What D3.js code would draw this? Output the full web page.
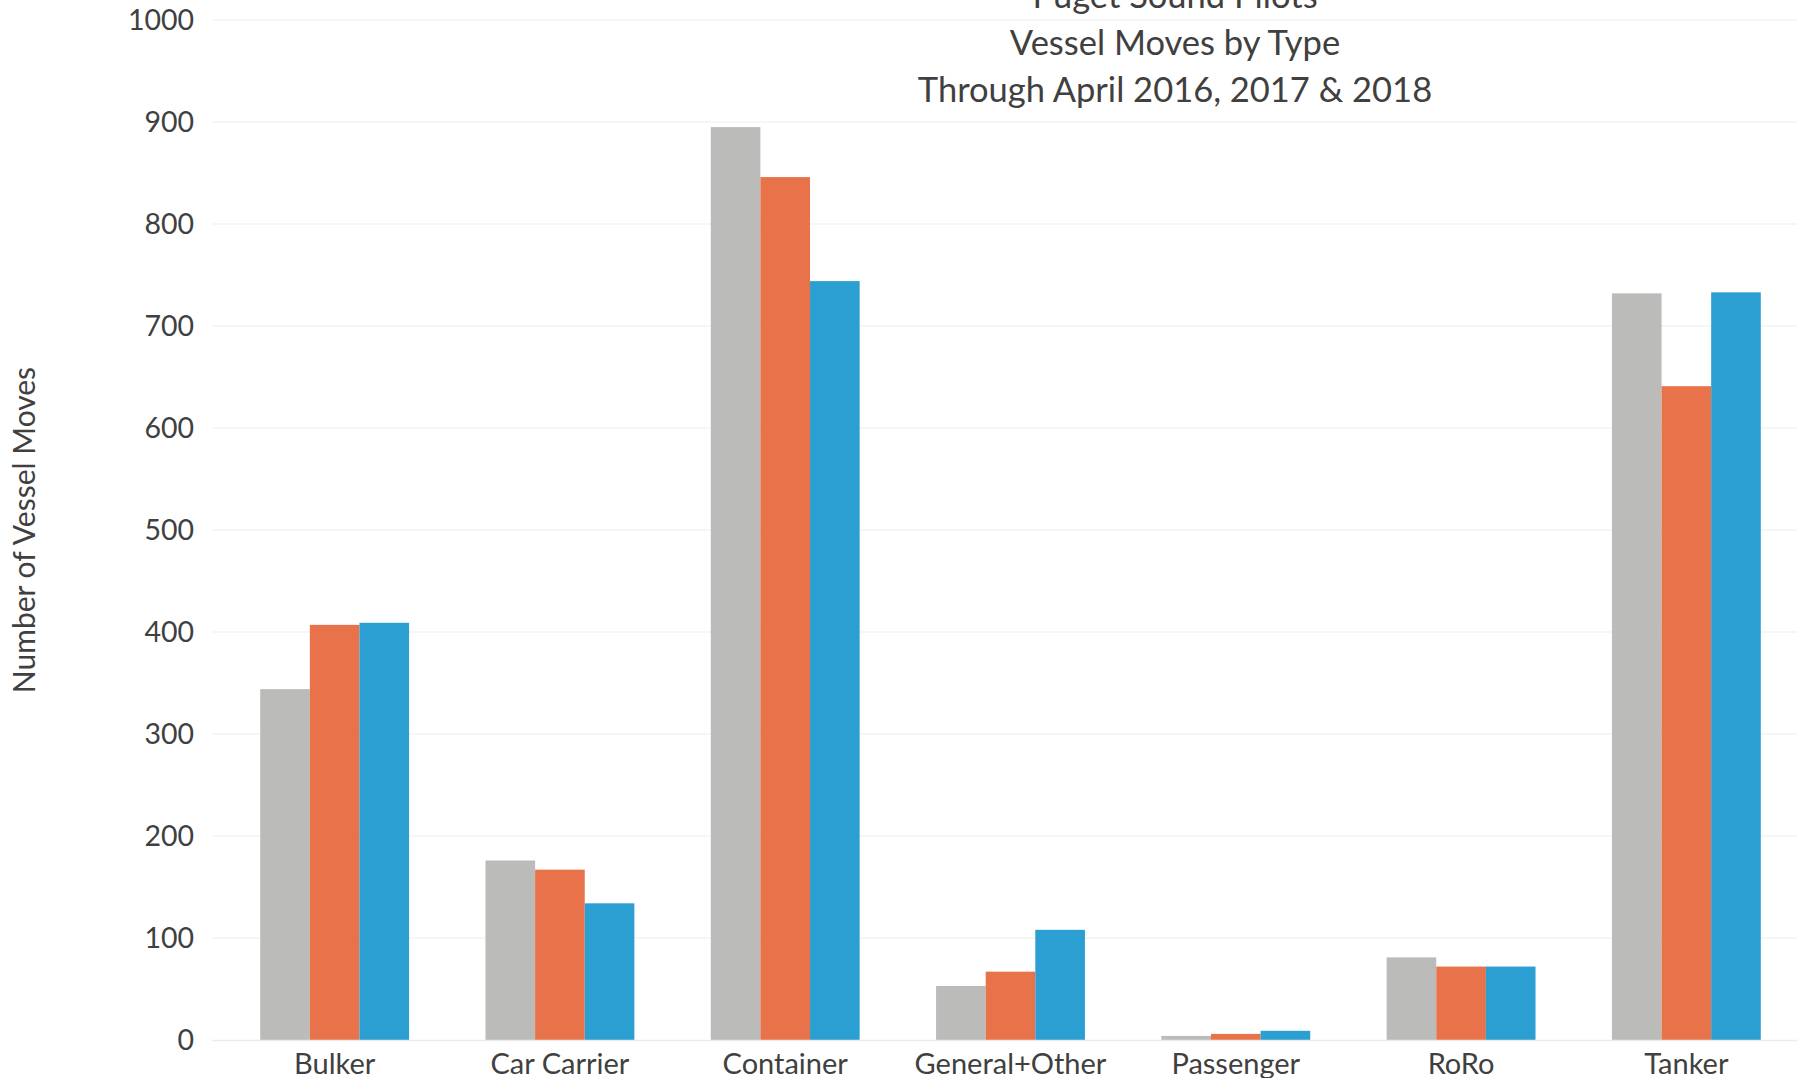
<!DOCTYPE html>
<html>
<head>
<meta charset="utf-8">
<script src="https://cdn.jsdelivr.net/npm/d3@7"></script>
<style>
    body { margin: 0; background: #ffffff; }
    text { font-family: Lato, "Open Sans", sans-serif; fill: #404040; }
</style>
</head>
<body>
<svg></svg>
<script>
let categories = ['Bulker', 'Car Carrier', 'Container', 'General+Other', 'Passenger', 'RoRo', 'Tanker'];
let years = ['2016', '2017', '2018'];
let moves2016 = [344, 176, 895, 53, 4, 81, 732];
let moves2017 = [407, 167, 846, 67, 6, 72, 641];
let moves2018 = [409, 134, 744, 108, 9, 72, 733];
let yTicks = [0, 100, 200, 300, 400, 500, 600, 700, 800, 900, 1000];
let titleLines = ['Puget Sound Pilots', 'Vessel Moves by Type', 'Through April 2016, 2017 & 2018'];
let colors = ['#bbbcb9', '#e8734a', '#2b9fd1'];

let series = [moves2016, moves2017, moves2018];
let data = categories.map((c, i) => ({
    name: c,
    values: years.map((y, j) => ({ year: y, value: series[j][i] }))
}));

let width = 1797;
let height = 1078;
let plotLeft = 222;
let plotRight = 1799;
let plotTop = 20;
let plotBottom = 1040;

let svg = d3.select('svg')
    .attr('width', width)
    .attr('height', height);

let yScale = d3.scaleLinear()
    .domain([0, 1000])
    .range([plotBottom, plotTop]);

let xScale = d3.scaleBand()
    .domain(categories)
    .range([plotLeft, plotRight])
    .paddingInner(0)
    .paddingOuter(0);

let inner = d3.scaleBand()
    .domain(years)
    .range([0, xScale.bandwidth()])
    .paddingInner(0)
    .paddingOuter(0.77);

// gridlines
svg.append('g')
    .selectAll('line')
    .data(yTicks.filter(t => t > 0))
    .enter()
    .append('line')
    .attr('x1', 212)
    .attr('x2', width)
    .attr('y1', d => yScale(d))
    .attr('y2', d => yScale(d))
    .attr('stroke', '#f3f3f3')
    .attr('stroke-width', 1.5);

// y axis labels
let yAxis = svg.append('g')
    .attr('transform', `translate(${194}, 0)`)
    .call(d3.axisLeft(yScale).tickValues(yTicks).tickFormat(d3.format('d')).tickSize(0).tickPadding(0));
yAxis.select('.domain').remove();
yAxis.selectAll('text')
    .style('font-size', '28.5px')
    .attr('fill', '#404040');

let groups = svg.selectAll('.group')
    .data(data)
    .enter()
    .append('g')
    .attr('class', 'group')
    .attr('transform', d => `translate(${xScale(d.name)}, 0)`);

groups.selectAll('rect')
    .data(d => d.values)
    .enter()
    .append('rect')
    .attr('x', d => inner(d.year))
    .attr('y', d => yScale(d.value))
    .attr('width', inner.bandwidth())
    .attr('height', d => plotBottom - yScale(d.value))
    .attr('fill', (d, i) => colors[i]);

// baseline
svg.append('line')
    .attr('x1', 212)
    .attr('x2', width)
    .attr('y1', plotBottom + 0.5)
    .attr('y2', plotBottom + 0.5)
    .attr('stroke', '#ececec')
    .attr('stroke-width', 1.5);

// category labels
let xAxis = svg.append('g')
    .attr('transform', `translate(0, ${plotBottom})`)
    .call(d3.axisBottom(xScale).tickSize(0).tickPadding(13));
xAxis.select('.domain').remove();
xAxis.selectAll('text')
    .style('font-size', '29px')
    .attr('fill', '#404040');

// title
svg.append('g')
    .selectAll('text')
    .data(titleLines)
    .enter()
    .append('text')
    .attr('x', 1175)
    .attr('y', (d, i) => 8 + i * 47)
    .attr('text-anchor', 'middle')
    .style('font-size', '34.5px')
    .text(d => d);

svg.append('text')
    .attr('x', -530)
    .attr('y', 35)
    .attr('transform', 'rotate(-90)')
    .attr('text-anchor', 'middle')
    .style('font-size', '30px')
    .text('Number of Vessel Moves');
</script>
</body>
</html>
